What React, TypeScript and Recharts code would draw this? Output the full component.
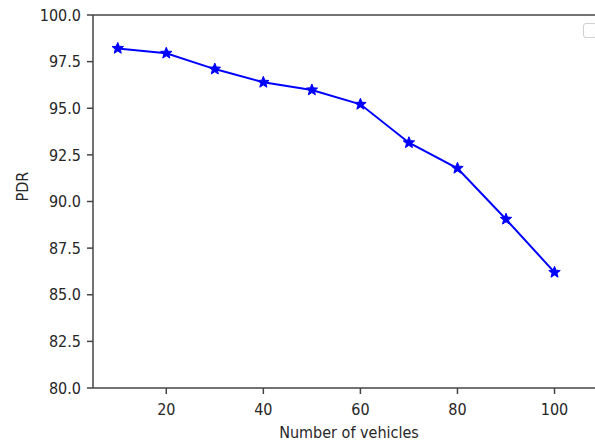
import { LineChart, Line, XAxis, YAxis, ReferenceLine } from 'recharts';

const vehicles = [10, 20, 30, 40, 50, 60, 70, 80, 90, 100];
const pdr = [98.21, 97.95, 97.1, 96.39, 95.98, 95.21, 93.15, 91.78, 89.05, 86.2];
const xTicks = [20, 40, 60, 80, 100];
const yTicks = [80, 82.5, 85, 87.5, 90, 92.5, 95, 97.5, 100];

const data = vehicles.map((v, i) => ({ vehicles: v, pdr: pdr[i] }));

const font = '"DejaVu Sans Condensed", "DejaVu Sans", sans-serif';
const axisColor = '#444';
const textColor = '#262626';

// matplotlib-style '*' marker
const Star = (props: any) => {
  const { cx, cy } = props;
  if (cx == null || cy == null) return null;
  const outer = 6;
  const inner = 2.6;
  let d = '';
  for (let i = 0; i < 10; i++) {
    const r = i % 2 === 0 ? outer : inner;
    const a = -Math.PI / 2 + (i * Math.PI) / 5;
    d += (i === 0 ? 'M' : 'L') + (cx + r * Math.cos(a)).toFixed(2) + ',' + (cy + r * Math.sin(a)).toFixed(2);
  }
  return <path d={d + 'Z'} fill="#0000ff" stroke="#0000ff" strokeWidth={1} />;
};

export default function App() {
  return (
    <div style={{ position: 'absolute', left: 0, top: 0, width: 595, height: 444, overflow: 'hidden', background: '#fff' }}>
      <LineChart width={620} height={444} data={data} margin={{ top: 15, right: 15, bottom: 0, left: 0 }}>
        <XAxis
          dataKey="vehicles"
          type="number"
          domain={[4.9, 110.4]}
          ticks={xTicks}
          allowDataOverflow
          height={56}
          stroke={axisColor}
          strokeWidth={1.5}
          tickSize={6}
          tickMargin={10}
          tick={{ fill: textColor, fontSize: 16, fontFamily: font }}
          label={{ value: 'Number of vehicles', position: 'insideBottom', offset: 6, fill: textColor, fontSize: 16, fontFamily: font }}
        />
        <YAxis
          type="number"
          domain={[80, 100]}
          ticks={yTicks}
          interval={0}
          width={93}
          stroke={axisColor}
          strokeWidth={1.5}
          tickSize={6}
          tickMargin={6}
          tickFormatter={(v: number) => v.toFixed(1)}
          tick={{ fill: textColor, fontSize: 16, fontFamily: font }}
          label={{ value: 'PDR', angle: -90, position: 'insideLeft', offset: 22, fill: textColor, fontSize: 16, fontFamily: font }}
        />
        <ReferenceLine y={100} stroke={axisColor} strokeWidth={1.5} />
        <Line
          dataKey="pdr"
          stroke="#0000ff"
          strokeWidth={2}
          dot={<Star />}
          activeDot={false}
          isAnimationActive={false}
        />
      </LineChart>
      {/* empty matplotlib legend frame, upper right */}
      <div
        style={{
          position: 'absolute',
          left: 583,
          top: 23,
          width: 12,
          height: 13,
          border: '1.5px solid #d0d0d0',
          borderRadius: 3,
          background: '#fff',
        }}
      />
    </div>
  );
}
